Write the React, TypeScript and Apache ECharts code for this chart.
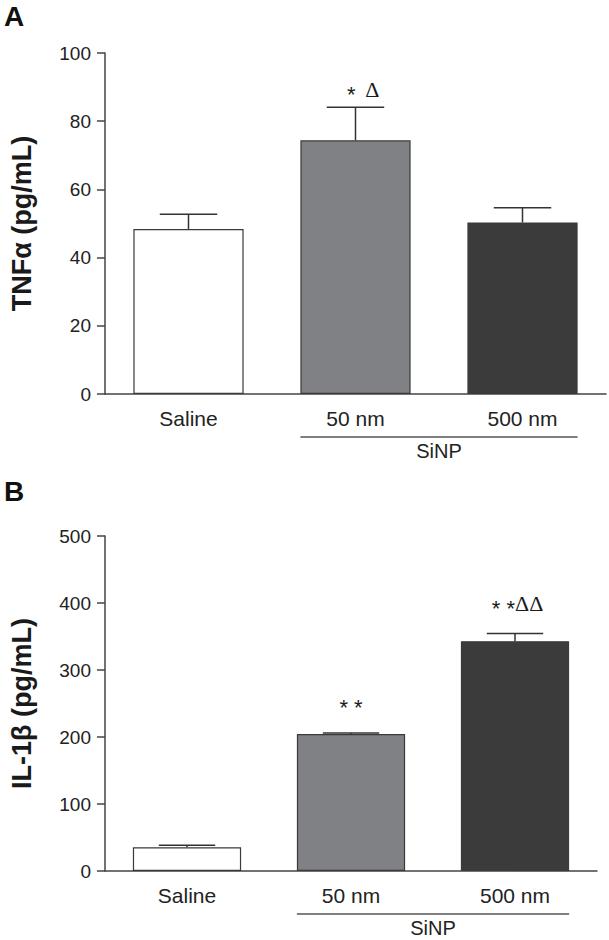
import React, { useEffect, useRef } from "react";
import * as echarts from "echarts";

const categories = ["Saline", "50 nm", "500 nm"];
const barColors = ["#ffffff", "#808185", "#3b3b3b"];

const tnfMean = [48.4, 74.4, 50.3];
const tnfUpper = [52.7, 84.1, 54.6];
const tnfStars = ["", "*", ""];
const tnfDeltas = ["", "  Δ", ""];

const il1bMean = [35.3, 204.3, 343];
const il1bUpper = [38.3, 206, 354.4];
const il1bStars = ["", "* *", "* *"];
const il1bDeltas = ["", "", "ΔΔ"];

const groupName = "SiNP";
const groupRange = [1, 2];

const tnfTicks = { min: 0, max: 100, interval: 20 };
const il1bTicks = { min: 0, max: 500, interval: 100 };

const SANS = "'Liberation Sans', Arial, Helvetica, sans-serif";
const SERIF = "'Liberation Serif', 'DejaVu Serif', serif";
const BAR_FRAC = 0.66;

function errRender(stars: string[], deltas: string[], gap: number) {
  return (params: any, api: any) => {
    const i = api.value(0);
    const mean = api.value(1);
    const up = api.value(2);
    const p0 = api.coord([i, mean]);
    const p1 = api.coord([i, up]);
    const band = api.size([1, 0])[0];
    const capHalf = band * 0.172;
    const children: any[] = [
      { type: "line", shape: { x1: p0[0], y1: p0[1], x2: p1[0], y2: p1[1] }, style: { stroke: "#333", lineWidth: 1.5 } },
      { type: "line", shape: { x1: p1[0] - capHalf, y1: p1[1], x2: p1[0] + capHalf, y2: p1[1] }, style: { stroke: "#333", lineWidth: 1.5 } },
    ];
    const idx = params.dataIndex;
    const s = stars[idx];
    const d = deltas[idx];
    const cy = p1[1] - gap;
    if (s) {
      children.push({
        type: "text",
        x: p1[0],
        y: cy + 5,
        style: { text: s, font: `22px ${SANS}`, fill: "#1a1a1a", align: d ? "right" : "center", verticalAlign: "middle" },
      });
    }
    if (d) {
      children.push({
        type: "text",
        x: p1[0],
        y: cy,
        style: { text: d, font: `22px ${SERIF}`, fill: "#1a1a1a", align: "left", verticalAlign: "middle" },
      });
    }
    return { type: "group", children };
  };
}

function groupRender(params: any, api: any) {
  const a = api.value(0);
  const b = api.value(1);
  const band = api.size([1, 0])[0];
  const half = (band * BAR_FRAC) / 2;
  const pa = api.coord([a, 0]);
  const pb = api.coord([b, 0]);
  const x1 = pa[0] - half;
  const x2 = pb[0] + half;
  const y = pa[1] + 43;
  return {
    type: "group",
    children: [
      { type: "line", shape: { x1, y1: y, x2, y2: y }, style: { stroke: "#555", lineWidth: 1.5 } },
      {
        type: "text",
        x: (x1 + x2) / 2,
        y: y + 14,
        style: { text: groupName, font: `20px ${SANS}`, fill: "#222", align: "center", verticalAlign: "middle" },
      },
    ],
  };
}

function yAxisCfg(gridIndex: number, name: string, t: any) {
  return {
    type: "value",
    gridIndex,
    min: t.min,
    max: t.max,
    interval: t.interval,
    name,
    nameLocation: "middle",
    nameRotate: 90,
    nameGap: 70,
    nameTextStyle: { fontSize: 27, fontWeight: "bold", fontFamily: SANS, color: "#1a1a1a" },
    axisLine: { show: true, lineStyle: { color: "#444", width: 1.5 } },
    axisTick: { show: true, length: 8, lineStyle: { color: "#444", width: 1.5 } },
    axisLabel: { fontSize: 19, fontFamily: SANS, color: "#222", margin: 14 },
    splitLine: { show: false },
  };
}

function xAxisCfg(gridIndex: number) {
  return {
    type: "category",
    gridIndex,
    data: categories,
    axisLine: { show: true, lineStyle: { color: "#444", width: 1.5 } },
    axisTick: { show: false },
    axisLabel: { fontSize: 21, fontFamily: SANS, color: "#222", margin: 14 },
  };
}

function barSeries(idx: number, values: number[]) {
  return {
    type: "bar",
    xAxisIndex: idx,
    yAxisIndex: idx,
    barWidth: `${BAR_FRAC * 100}%`,
    data: values.map((v, i) => ({
      value: v,
      itemStyle: { color: barColors[i], borderColor: "#3a3a3a", borderWidth: 1.2 },
    })),
  };
}

export default function App() {
  const ref = useRef<HTMLDivElement>(null);
  useEffect(() => {
    document.body.style.margin = "0";
    const chart = echarts.init(ref.current!, null, { renderer: "svg" });
    chart.setOption({
      animation: false,
      backgroundColor: "#ffffff",
      grid: [
        { left: 97, top: 53, width: 509, height: 341 },
        { left: 94, top: 536, width: 503, height: 335 },
      ],
      xAxis: [xAxisCfg(0), xAxisCfg(1)],
      yAxis: [yAxisCfg(0, "TNFα (pg/mL)", tnfTicks), yAxisCfg(1, "IL-1β (pg/mL)", il1bTicks)],
      graphic: [
        { type: "text", left: 4, top: 2, style: { text: "A", font: `bold 28px ${SANS}`, fill: "#111" } },
        { type: "text", left: 4, top: 477, style: { text: "B", font: `bold 28px ${SANS}`, fill: "#111" } },
      ],
      series: [
        barSeries(0, tnfMean),
        barSeries(1, il1bMean),
        {
          type: "custom",
          xAxisIndex: 0,
          yAxisIndex: 0,
          z: 5,
          renderItem: errRender(tnfStars, tnfDeltas, 18),
          data: categories.map((_, i) => [i, tnfMean[i], tnfUpper[i]]),
        },
        {
          type: "custom",
          xAxisIndex: 1,
          yAxisIndex: 1,
          z: 5,
          renderItem: errRender(il1bStars, il1bDeltas, 30),
          data: categories.map((_, i) => [i, il1bMean[i], il1bUpper[i]]),
        },
        {
          type: "custom",
          xAxisIndex: 0,
          yAxisIndex: 0,
          encode: { x: [0, 1], y: 2 },
          renderItem: groupRender,
          data: [[groupRange[0], groupRange[1], 0]],
        },
        {
          type: "custom",
          xAxisIndex: 1,
          yAxisIndex: 1,
          encode: { x: [0, 1], y: 2 },
          renderItem: groupRender,
          data: [[groupRange[0], groupRange[1], 0]],
        },
      ],
    });
    return () => chart.dispose();
  }, []);
  return <div ref={ref} style={{ width: 609, height: 940 }} />;
}
